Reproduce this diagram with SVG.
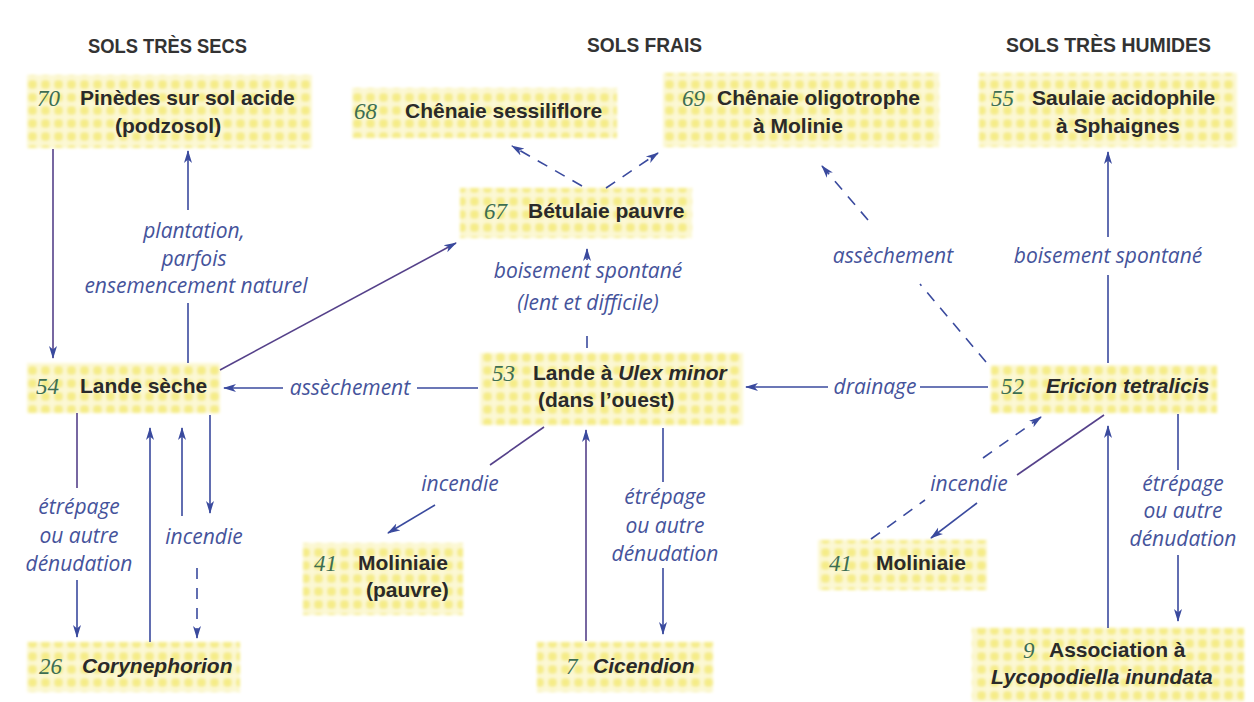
<svg xmlns="http://www.w3.org/2000/svg" width="1254" height="702" viewBox="0 0 1254 702">
<defs>
<pattern id="dots" width="13" height="13" patternUnits="userSpaceOnUse">
<rect width="13" height="13" fill="#fcf8d4"/>
<rect x="2" y="2" width="9" height="9" rx="4" fill="#f5ec88"/>
</pattern>
<filter id="soft" x="-5%" y="-10%" width="110%" height="120%"><feGaussianBlur stdDeviation="1.5"/></filter>
<marker id="ah" viewBox="0 0 13 10" refX="12" refY="5" markerWidth="13" markerHeight="10" markerUnits="userSpaceOnUse" orient="auto">
<path d="M0,1 L13,5 L0,9 L3.5,5 Z" fill="#3a4a9e"/>
</marker>
</defs>
<style>
.box{fill:url(#dots);filter:url(#soft)}
.t{font-family:"Liberation Sans",Arial,sans-serif;font-weight:bold;font-size:21px;fill:#2a2a2a}
.ti{font-style:italic}
.n{font-family:"Liberation Serif","Times New Roman",serif;font-style:italic;font-size:23px;fill:#3d6e52}
.h{font-family:"Liberation Sans",Arial,sans-serif;font-weight:bold;font-size:21px;fill:#333}
.l{font-family:"Open Sans",sans-serif;font-style:italic;font-size:21px;fill:#45539b;text-anchor:middle}
.c{stroke:#3a4a9e;stroke-width:1.6;fill:none}
.p{stroke:#55418a}
.d{stroke-dasharray:11 9}
.a{marker-end:url(#ah)}
</style>
<rect width="1254" height="702" fill="#ffffff"/>

<g id="headers">
<text class="h" x="88" y="53" textLength="159" lengthAdjust="spacingAndGlyphs">SOLS TRÈS SECS</text>
<text class="h" x="587" y="52" textLength="115" lengthAdjust="spacingAndGlyphs">SOLS FRAIS</text>
<text class="h" x="1006" y="52" textLength="205" lengthAdjust="spacingAndGlyphs">SOLS TRÈS HUMIDES</text>
</g>

<g id="n70"><rect class="box" x="27" y="75" width="285" height="73"/>
<text class="n" x="37" y="106">70</text>
<text class="t" x="80" y="105">Pinèdes sur sol acide</text>
<text class="t" x="115" y="133">(podzosol)</text></g>

<g id="n68"><rect class="box" x="352" y="88" width="265" height="50"/>
<text class="n" x="354" y="119">68</text>
<text class="t" x="405" y="118">Chênaie sessiliflore</text></g>

<g id="n69"><rect class="box" x="663" y="73" width="276" height="74"/>
<text class="n" x="682" y="106">69</text>
<text class="t" x="717" y="105">Chênaie oligotrophe</text>
<text class="t" x="753" y="133">à Molinie</text></g>

<g id="n55"><rect class="box" x="979" y="73" width="258" height="74"/>
<text class="n" x="991" y="106">55</text>
<text class="t" x="1032" y="105">Saulaie acidophile</text>
<text class="t" x="1056" y="133">à Sphaignes</text></g>

<g id="n67"><rect class="box" x="460" y="188" width="232" height="50"/>
<text class="n" x="484" y="219">67</text>
<text class="t" x="528" y="218">Bétulaie pauvre</text></g>

<g id="n54"><rect class="box" x="27" y="363" width="193" height="50"/>
<text class="n" x="36" y="394">54</text>
<text class="t" x="80" y="393">Lande sèche</text></g>

<g id="n53"><rect class="box" x="480" y="353" width="263" height="72"/>
<text class="n" x="492" y="381">53</text>
<text class="t" x="533" y="380">Lande à <tspan class="ti">Ulex minor</tspan></text>
<text class="t" x="538" y="407">(dans l’ouest)</text></g>

<g id="n52"><rect class="box" x="991" y="365" width="226" height="48"/>
<text class="n" x="1001" y="394">52</text>
<text class="t ti" x="1046" y="393">Ericion tetralicis</text></g>

<g id="n41a"><rect class="box" x="303" y="543" width="160" height="72"/>
<text class="n" x="314" y="571">41</text>
<text class="t" x="358" y="570">Moliniaie</text>
<text class="t" x="366" y="597">(pauvre)</text></g>

<g id="n41b"><rect class="box" x="818" y="540" width="169" height="50"/>
<text class="n" x="829" y="571">41</text>
<text class="t" x="876" y="570">Moliniaie</text></g>

<g id="n26"><rect class="box" x="27" y="642" width="213" height="50"/>
<text class="n" x="39" y="674">26</text>
<text class="t ti" x="82" y="673">Corynephorion</text></g>

<g id="n7"><rect class="box" x="537" y="642" width="176" height="50"/>
<text class="n" x="566" y="674">7</text>
<text class="t ti" x="593" y="673">Cicendion</text></g>

<g id="n9"><rect class="box" x="972" y="628" width="272" height="74"/>
<text class="n" x="1023" y="658">9</text>
<text class="t" x="1049" y="657">Association à</text>
<text class="t ti" x="991" y="684">Lycopodiella inundata</text></g>

<g id="connectors">
<line class="c p a" x1="53" y1="149" x2="53" y2="358"/>
<line class="c" x1="188" y1="363" x2="188" y2="303"/>
<line class="c a" x1="188" y1="210" x2="188" y2="151"/>
<line class="c p a" x1="220" y1="370" x2="456" y2="243"/>
<line class="c" x1="478" y1="388" x2="417" y2="388"/>
<line class="c a" x1="283" y1="388" x2="224" y2="388"/>
<line class="c d a" x1="582" y1="186" x2="512" y2="146"/>
<line class="c d a" x1="606" y1="188" x2="658" y2="153"/>
<line class="c" x1="587" y1="336" x2="587" y2="348"/>
<line class="c a" x1="587" y1="260" x2="587" y2="249"/>
<line class="c d" x1="986" y1="362" x2="920" y2="284"/>
<line class="c d a" x1="868" y1="220" x2="822" y2="166"/>
<line class="c" x1="1108" y1="363" x2="1108" y2="275"/>
<line class="c a" x1="1108" y1="237" x2="1108" y2="152"/>
<line class="c" x1="988" y1="387" x2="920" y2="387"/>
<line class="c a" x1="828" y1="387" x2="746" y2="387"/>
<line class="c p" x1="544" y1="427" x2="490" y2="465"/>
<line class="c a" x1="435" y1="505" x2="388" y2="533"/>
<line class="c p a" x1="586" y1="641" x2="586" y2="430"/>
<line class="c" x1="663" y1="428" x2="663" y2="482"/>
<line class="c a" x1="663" y1="568" x2="663" y2="634"/>
<line class="c p" x1="77" y1="413" x2="77" y2="488"/>
<line class="c a" x1="77" y1="580" x2="77" y2="637"/>
<line class="c a" x1="150" y1="642" x2="150" y2="428"/>
<line class="c a" x1="182" y1="516" x2="182" y2="428"/>
<line class="c a" x1="210" y1="415" x2="210" y2="513"/>
<line class="c d a" x1="197" y1="568" x2="197" y2="638"/>
<line class="c p" x1="1104" y1="415" x2="1017" y2="475"/>
<line class="c a" x1="977" y1="503" x2="931" y2="538"/>
<line class="c d" x1="871" y1="539" x2="925" y2="500"/>
<line class="c d a" x1="983" y1="458" x2="1041" y2="417"/>
<line class="c a" x1="1108" y1="628" x2="1108" y2="426"/>
<line class="c" x1="1178" y1="414" x2="1178" y2="470"/>
<line class="c a" x1="1178" y1="555" x2="1178" y2="621"/>
</g>

<g id="labels">
<text class="l" x="194" y="238">plantation,</text>
<text class="l" x="194" y="266">parfois</text>
<text class="l" x="196" y="293">ensemencement naturel</text>
<text class="l" x="350" y="395">assèchement</text>
<text class="l" x="588" y="278">boisement spontané</text>
<text class="l" x="588" y="310">(lent et difficile)</text>
<text class="l" x="893" y="263">assèchement</text>
<text class="l" x="1108" y="263">boisement spontané</text>
<text class="l" x="875" y="394">drainage</text>
<text class="l" x="460" y="491">incendie</text>
<text class="l" x="79" y="514">étrépage</text>
<text class="l" x="79" y="543">ou autre</text>
<text class="l" x="79" y="571">dénudation</text>
<text class="l" x="204" y="544">incendie</text>
<text class="l" x="665" y="504">étrépage</text>
<text class="l" x="665" y="533">ou autre</text>
<text class="l" x="665" y="561">dénudation</text>
<text class="l" x="969" y="491">incendie</text>
<text class="l" x="1183" y="491">étrépage</text>
<text class="l" x="1183" y="518">ou autre</text>
<text class="l" x="1183" y="546">dénudation</text>
</g>
</svg>
